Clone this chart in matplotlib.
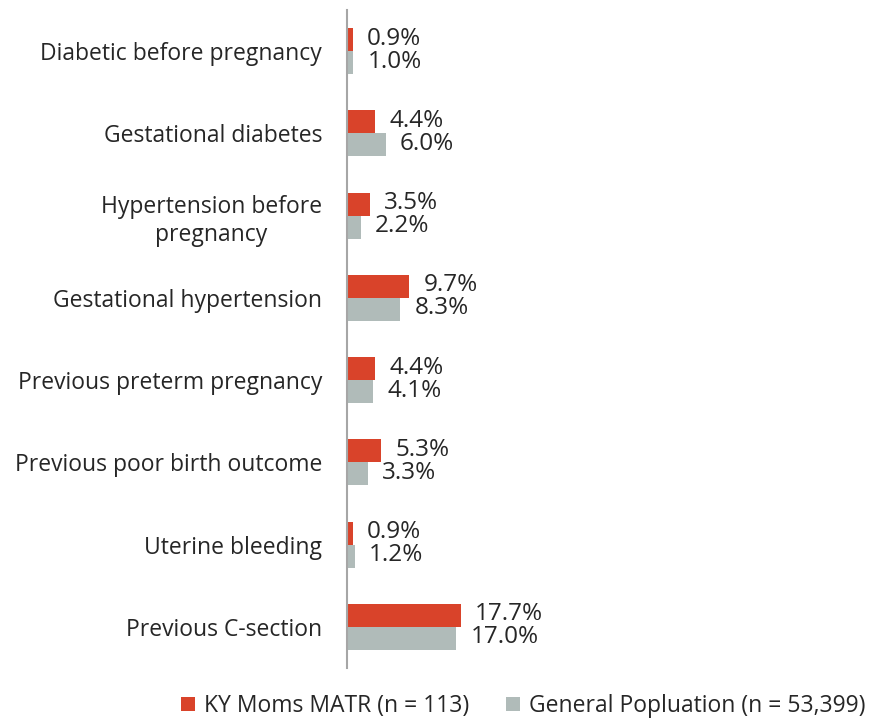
import numpy as np
import matplotlib.pyplot as plt

plt.rcParams['font.family'] = ['Open Sans', 'DejaVu Sans']

# data
categories = ['Diabetic before pregnancy', 'Gestational diabetes',
              'Hypertension before\npregnancy', 'Gestational hypertension',
              'Previous preterm pregnancy', 'Previous poor birth outcome',
              'Uterine bleeding', 'Previous C-section']
ky_moms = [0.9, 4.4, 3.5, 9.7, 4.4, 5.3, 0.9, 17.7]
general = [1.0, 6.0, 2.2, 8.3, 4.1, 3.3, 1.2, 17.0]
series_names = ['KY Moms MATR (n = 113)', 'General Popluation (n = 53,399)']

red = '#D9432A'
gray = '#B0BBB9'
fs = 16.5

fig = plt.figure(figsize=(8.72, 7.19), dpi=100)
ax = fig.add_axes([0.398, 0.071, 0.59, 0.915])

y = np.arange(len(categories))
h = 0.28
b1 = ax.barh(y - h/2, ky_moms, height=h, color=red, label=series_names[0])
b2 = ax.barh(y + h/2, general, height=h, color=gray, label=series_names[1])

ax.set_xlim(0, 80)
ax.set_ylim(len(categories) - 0.5, -0.5)
ax.set_yticks(y)
ax.set_yticklabels(categories, fontsize=fs, color='#262626', ha='right',
                   multialignment='center', linespacing=1.25)
ax.tick_params(axis='y', length=0, pad=18)
ax.set_xticks([])

for s in ['top', 'right', 'bottom']:
    ax.spines[s].set_visible(False)
ax.spines['left'].set_color('#A6A6A6')
ax.spines['left'].set_linewidth(1.5)

# value labels
for bars, vals in [(b1, ky_moms), (b2, general)]:
    for rect, v in zip(bars, vals):
        ax.annotate(f'{v:.1f}%', (v, rect.get_y() + rect.get_height()/2),
                    xytext=(14, 1), textcoords='offset pixels',
                    va='center', ha='left', fontsize=17.5, color='#262626')

fig.legend(handles=[b1, b2], labels=series_names, loc='center',
           bbox_to_anchor=(0.6, 0.018), ncol=2, frameon=False, fontsize=fs,
           handlelength=0.6, handleheight=0.6, handletextpad=0.4,
           columnspacing=1.6, labelcolor='#262626')

fig.savefig('out.png', dpi=100)
